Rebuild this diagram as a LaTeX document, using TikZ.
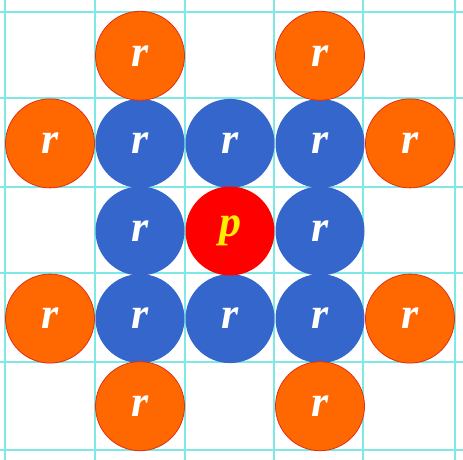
\documentclass[tikz,border=0pt]{standalone}
\usepackage{fontspec}
\setmainfont{Liberation Serif}
\definecolor{gridcyan}{RGB}{125,232,230}
\definecolor{shellorange}{RGB}{255,104,0}
\definecolor{shellred}{RGB}{225,45,20}
\definecolor{nearblue}{RGB}{52,102,204}
\definecolor{centrered}{RGB}{255,0,0}
\definecolor{plabel}{RGB}{255,238,0}
\tikzset{
    gridline/.style={draw=gridcyan, line width=1.4pt},
    atom/.style={circle, minimum size=89pt, inner sep=0pt,
        font=\fontsize{44}{44}\selectfont\bfseries\itshape},
    outeratom/.style={atom, fill=shellorange, draw=shellred, line width=0.8pt, text=white},
    inneratom/.style={atom, fill=nearblue, text=white},
    centreatom/.style={atom, fill=centrered, text=plabel}
}
\begin{document}
\begin{tikzpicture}[x=1pt,y=1pt]

% Canvas
\fill[white] (0,0) rectangle (463,460);
\useasboundingbox (0,0) rectangle (463,460);

% Grid
\foreach \x in {5,95,185,274,363,455}
    \draw[gridline] (\x,0) -- (\x,460);
\foreach \y in {448,362,273,187,98,10}
    \draw[gridline] (0,\y) -- (463,\y);

% Blue ring
\node[inneratom] (rnw) at (140,316.6) {r};
\node[inneratom] (rn)  at (230,316.6) {r};
\node[inneratom] (rne) at (320,316.6) {r};
\node[inneratom] (rw)  at (140,229) {r};
\node[inneratom] (re)  at (320,229) {r};
\node[inneratom] (rsw) at (140,141.4) {r};
\node[inneratom] (rs)  at (230,141.4) {r};
\node[inneratom] (rse) at (320,141.4) {r};

% Centre
\node[centreatom] (p) at (230,229) {p};

% Orange outer ring
\node[outeratom] (onw) at (140,404.2) {r};
\node[outeratom] (one) at (320,404.2) {r};
\node[outeratom] (own) at (50,316.6) {r};
\node[outeratom] (oen) at (410,316.6) {r};
\node[outeratom] (ows) at (50,141.4) {r};
\node[outeratom] (oes) at (410,141.4) {r};
\node[outeratom] (osw) at (140,53.8) {r};
\node[outeratom] (ose) at (320,53.8) {r};

\end{tikzpicture}
\end{document}
